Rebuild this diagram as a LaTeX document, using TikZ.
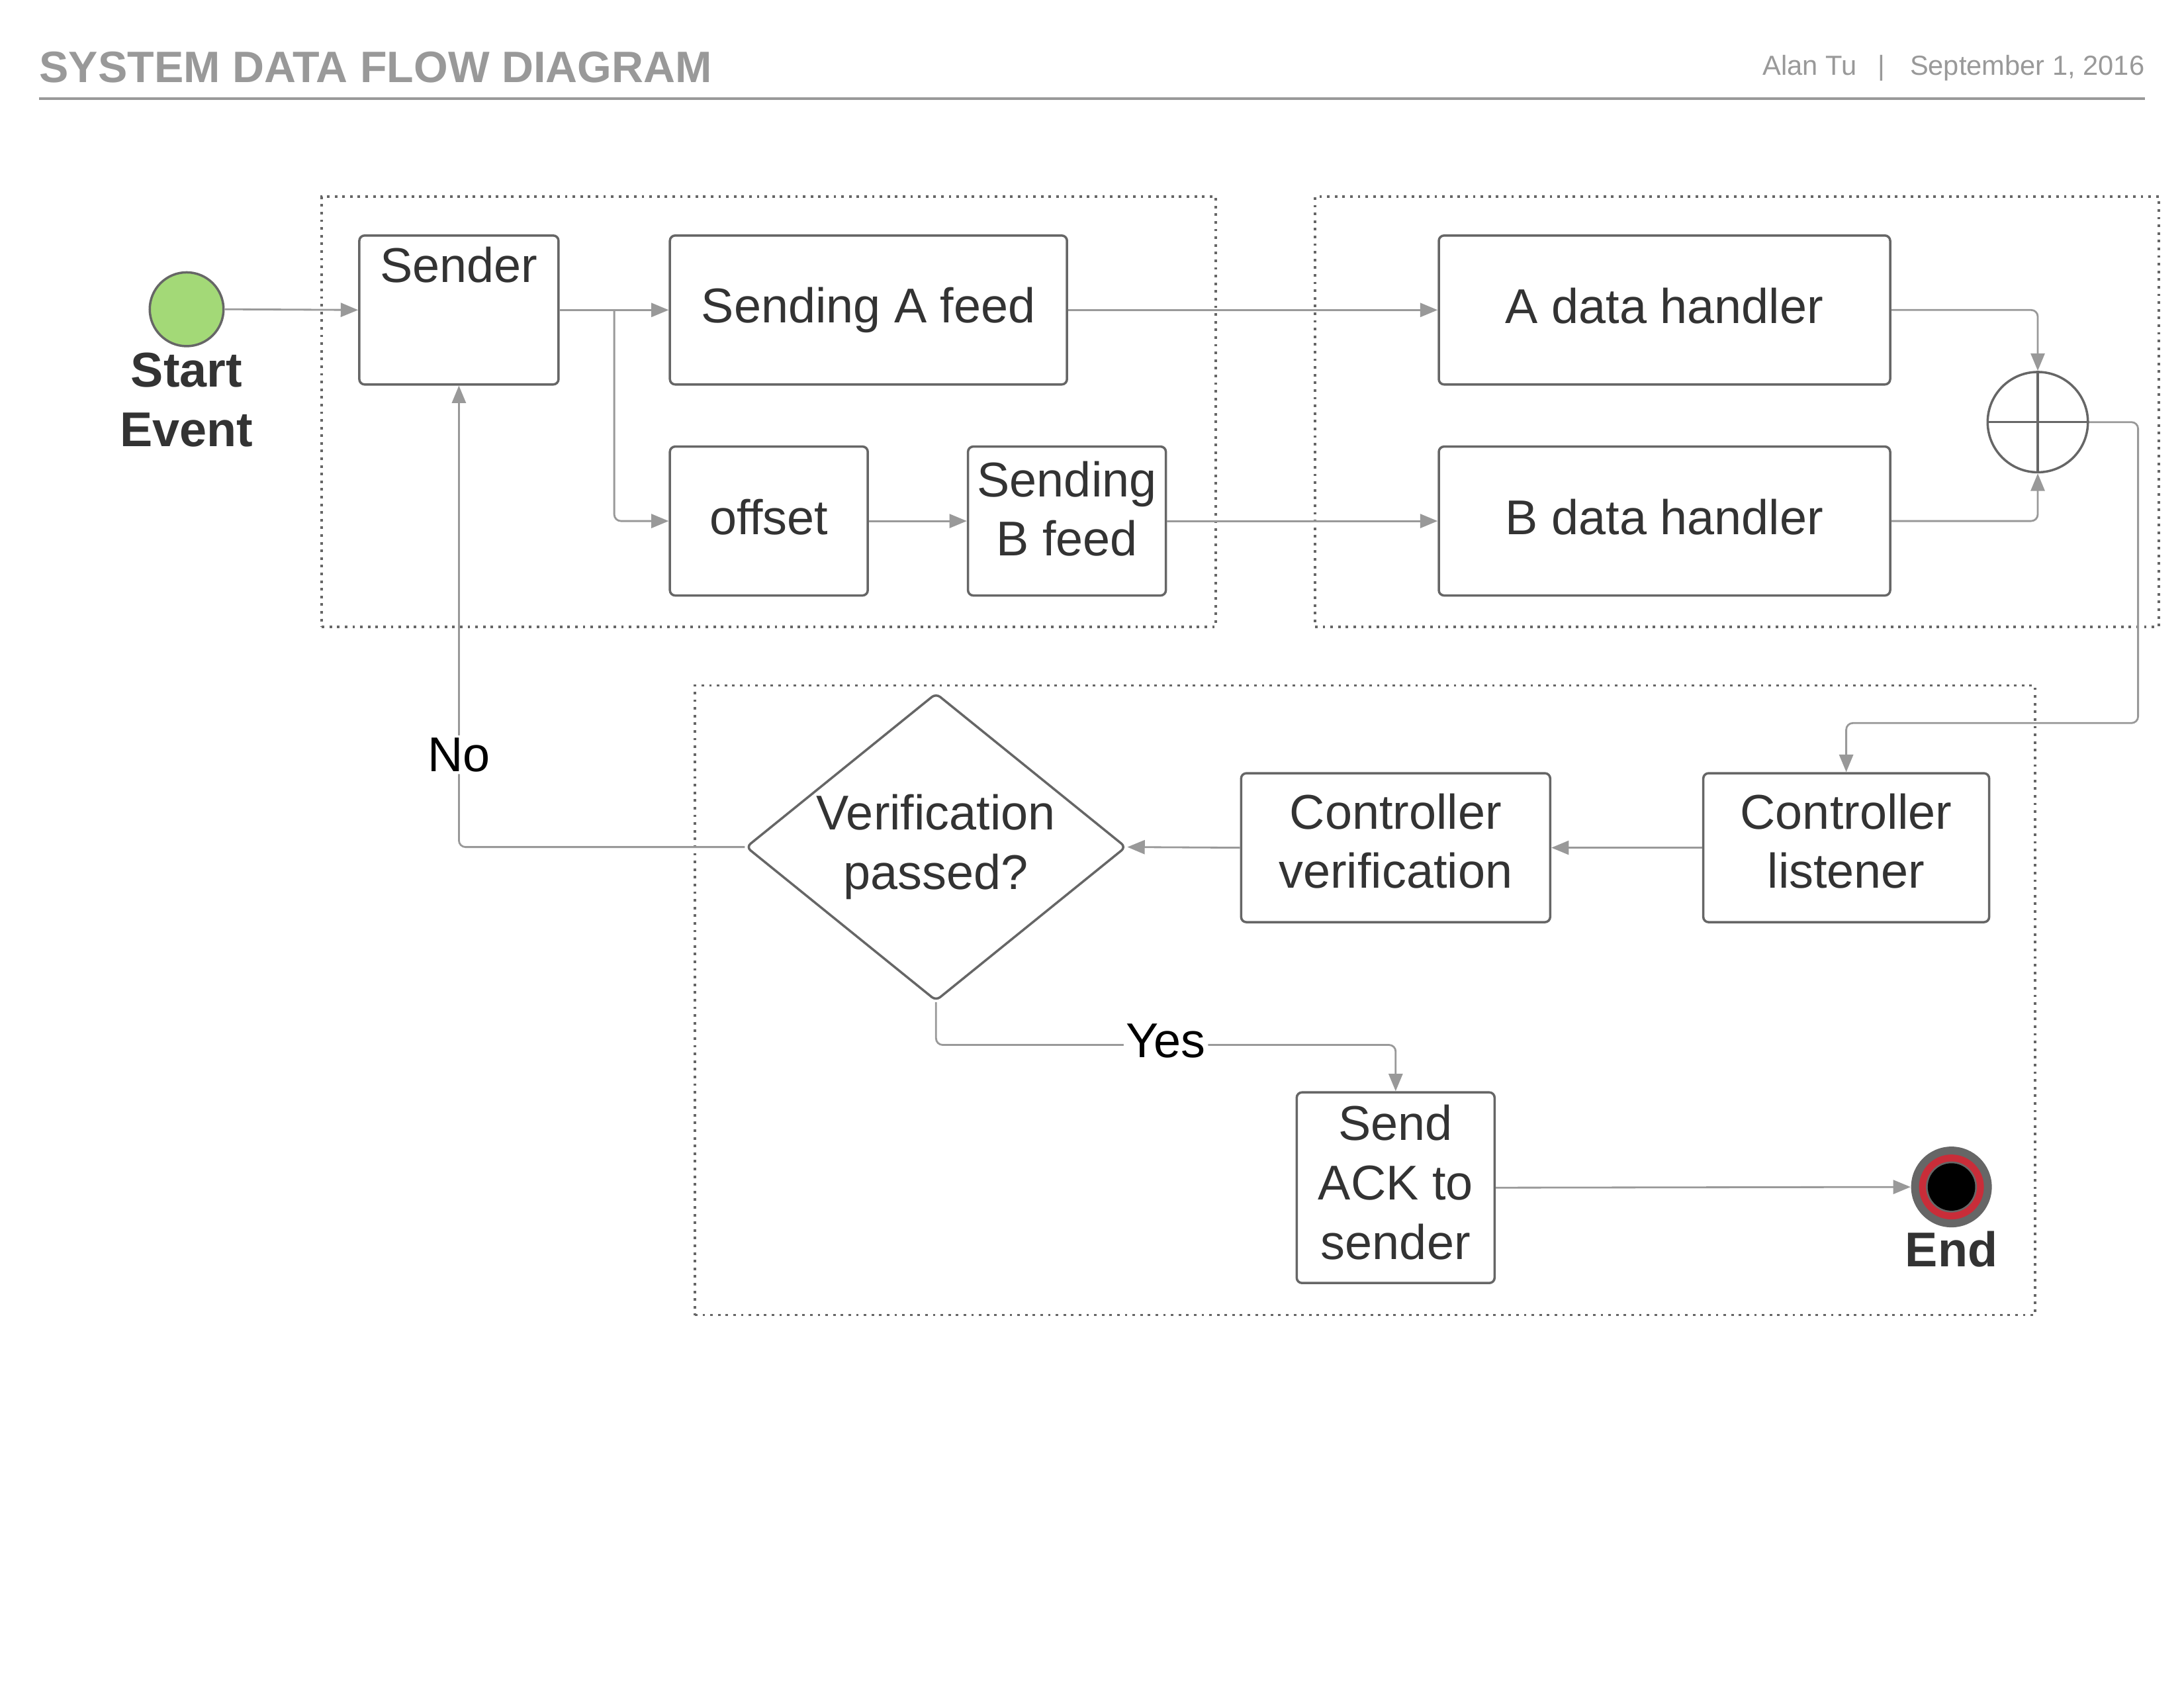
\documentclass[tikz,border=0pt]{standalone}
\usepackage{fontspec}
\setmainfont{Liberation Sans}
\usetikzlibrary{positioning,shapes.geometric,arrows.meta}

\definecolor{wire}{HTML}{999999}
\definecolor{edge}{HTML}{666666}
\definecolor{ink}{HTML}{333333}
\definecolor{startgreen}{HTML}{A3D977}
\definecolor{endred}{HTML}{C92D39}
\newcommand{\bigtext}{\fontsize{21}{25.5}\selectfont}

\begin{document}
\begin{tikzpicture}[
        every node/.style={align=center},
        process/.style={draw=edge, line width=1pt, rounded corners=0.08cm,
                        minimum height=2.25cm, inner sep=2pt,
                        font=\bigtext, text=ink},
        lane/.style={draw=edge, line width=1pt,
                     dash pattern=on 1.1pt off 2.2pt, inner sep=0pt},
        flow/.style={draw=wire, line width=0.8pt, rounded corners=0.1cm,
                     -{Triangle[length=7.5pt, width=6pt]}},
        answer/.style={fill=white, font=\bigtext, text=black, inner sep=1pt},
        evlabel/.style={font=\bigtext\bfseries, text=ink, inner sep=0pt},
    ]
    \useasboundingbox (0,0) rectangle (33,-25.5);

    % --- Header ------------------------------------------------------------
    \node[anchor=base west, inner sep=0pt, text=wire,
          font=\fontsize{18.9}{22}\selectfont\bfseries]
        (title) at (0.589,-1.242) {SYSTEM DATA FLOW DIAGRAM};
    \node[anchor=base east, inner sep=0pt, text=wire,
          font=\fontsize{11.85}{14}\selectfont]
        (byline) at (32.41,-1.132)
        {Alan Tu\hspace{0.78em}|\hspace{0.9em}September 1, 2016};
    \draw[wire, line width=1.1pt] (0.589,-1.494) -- (32.41,-1.494);

    % --- Dotted lanes ------------------------------------------------------
    \node[lane, minimum width=13.51cm, minimum height=6.50cm]
        (sendlane) at (11.617,-6.219) {};
    \node[lane, minimum width=12.75cm, minimum height=6.50cm]
        (handlane) at (26.244,-6.219) {};
    \node[lane, minimum width=20.25cm, minimum height=9.51cm]
        (ctrllane) at (20.625,-15.111) {};

    % --- Start event -------------------------------------------------------
    \node[circle, draw=edge, line width=1pt, fill=startgreen,
          minimum size=1.115cm, inner sep=0pt] (start) at (2.820,-4.672) {};
    \node[evlabel, below=0.08cm of start] (startlbl) {Start\\Event};

    % --- Sender lane -------------------------------------------------------
    \node[process, minimum width=3.01cm,
          label={[anchor=north, font=\bigtext, text=ink, inner sep=1pt,
                  yshift=-0.15cm]north:Sender}]
        (sender) at (6.934,-4.683) {};
    \node[process, minimum width=6.00cm] (afeed)  at (13.122,-4.683) {Sending A feed};
    \node[process, minimum width=2.99cm, text depth=0.13cm]
        (offset) at (11.617,-7.871) {offset};
    \node[process, minimum width=2.99cm, text depth=0.38cm]
        (bfeed)  at (16.121,-7.871) {Sending\\B feed};

    % --- Handler lane ------------------------------------------------------
    \node[process, minimum width=6.82cm, text depth=0.13cm]
        (ahandler) at (25.150,-4.683) {A data handler};
    \node[process, minimum width=6.82cm, text depth=0.13cm]
        (bhandler) at (25.150,-7.871) {B data handler};
    \node[circle, draw=edge, line width=1pt, minimum size=1.515cm,
          inner sep=0pt] (merge) at (30.790,-6.377) {};
    \draw[edge, line width=1pt] (merge.north) -- (merge.south)
                                (merge.west) -- (merge.east);

    % --- Controller lane ---------------------------------------------------
    \node[process, minimum width=4.32cm, text depth=0.21cm]
        (listener) at (27.896,-12.806) {Controller\\listener};
    \node[process, minimum width=4.67cm, text depth=0.21cm]
        (verify) at (21.088,-12.806) {Controller\\verification};
    \node[diamond, draw=edge, line width=1pt, rounded corners=0.08cm,
          aspect=1.235, inner sep=0pt, minimum width=5.746cm,
          minimum height=4.651cm, font=\bigtext, text=ink]
        (check) at (14.143,-12.796) {Verification\\passed?};
    \node[process, minimum width=2.99cm, minimum height=2.88cm,
          text depth=0.17cm]
        (ack) at (21.088,-17.942) {Send\\ACK to\\sender};

    % End event: grey rim, red ring, black core
    \node[circle, fill=edge, minimum size=1.22cm, inner sep=0pt]
        (finish) at (29.486,-17.931) {};
    \fill[endred] (finish.center) circle (0.49cm);
    \fill[edge]   (finish.center) circle (0.385cm);
    \fill[black]  (finish.center) circle (0.358cm);
    \node[evlabel, below=0.04cm of finish] (endlbl) {End};

    % --- Connectors --------------------------------------------------------
    \coordinate (split)   at (9.281,-4.683);
    \coordinate (loop)    at (32.306,-10.923);
    \coordinate (yesturn) at (21.088,-15.785);

    \draw[flow] (start.east) -- (sender.west);
    \draw[flow] (sender.east) -- (afeed.west);
    \draw[flow] (split) |- (offset.west);
    \draw[flow] (offset) -- (bfeed);
    \draw[flow] (afeed) -- (ahandler);
    \draw[flow] (bfeed) -- (bhandler);
    \draw[flow] (ahandler.east) -| (merge.north);
    \draw[flow] (bhandler.east) -| (merge.south);
    \draw[flow] (merge.east) -| (loop) -| (listener.north);
    \draw[flow] (listener.west) -- (verify.east);
    \draw[flow] (verify.west) -- (check.east);
    \draw[flow] (check.west) -| node[answer, pos=0.6] {No} (sender.south);
    \draw[flow] (check.south) |- node[answer, pos=0.75, yshift=0.06cm] {Yes}
        (yesturn) -- (ack.north);
    \draw[flow] (ack.east) -- (finish.west);

    \end{tikzpicture}
\end{document}
